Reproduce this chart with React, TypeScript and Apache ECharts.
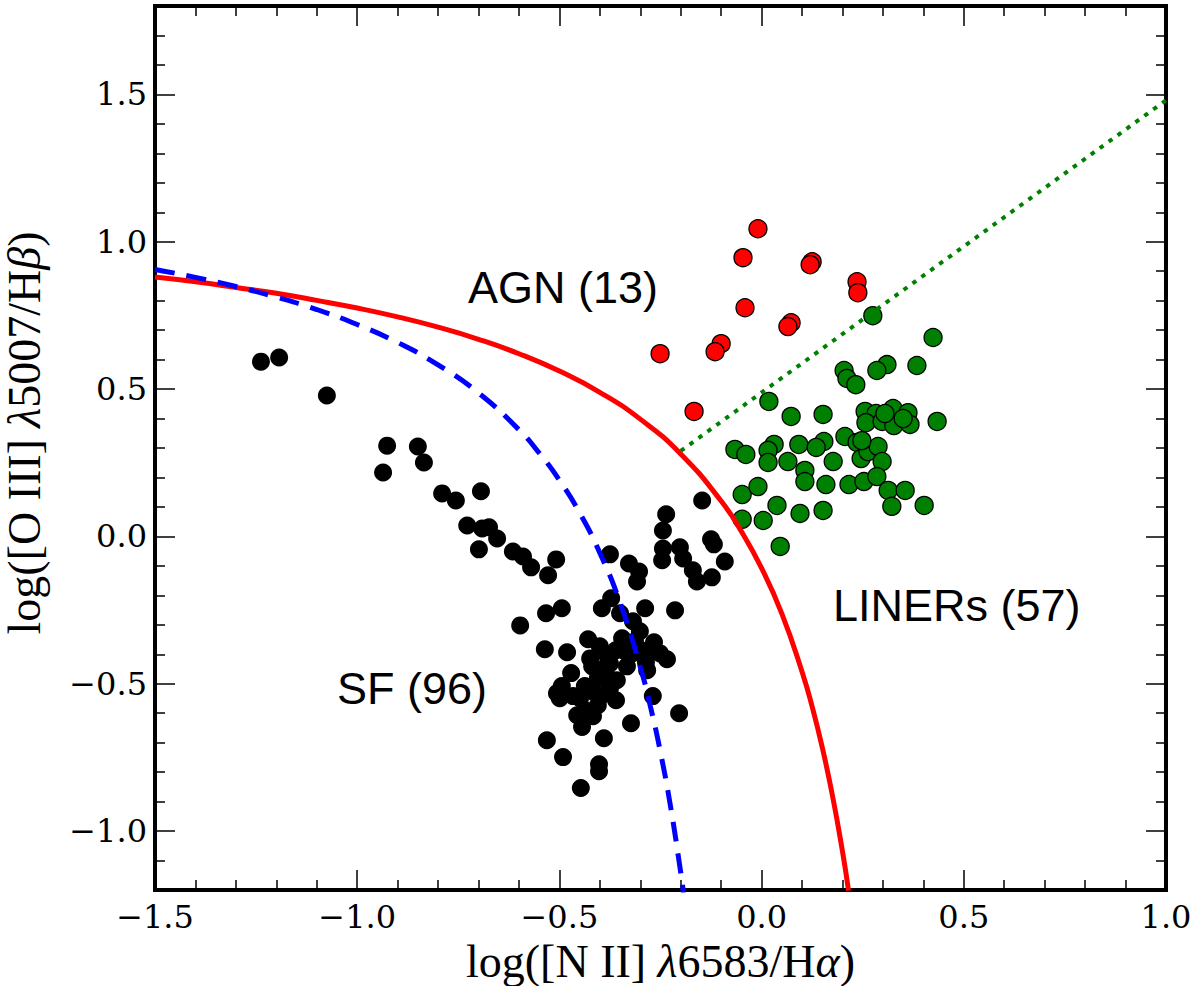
import { useEffect, useRef } from 'react';
import * as echarts from 'echarts';

// star-forming galaxies (black)
const sfPoints: [number, number][] = [
  [-1.238, 0.593], [-1.193, 0.607], [-1.075, 0.478], [-0.926, 0.308], [-0.936, 0.217],
  [-0.85, 0.305], [-0.835, 0.251], [-0.79, 0.146], [-0.756, 0.122], [-0.694, 0.153],
  [-0.728, 0.037], [-0.691, 0.027], [-0.674, 0.031], [-0.654, -0.007], [-0.699, -0.044],
  [-0.236, 0.075], [-0.244, 0.02], [-0.147, 0.122], [-0.125, -0.01], [-0.118, -0.027],
  [-0.091, -0.085], [-0.123, -0.139], [-0.244, -0.041], [-0.246, -0.081], [-0.202, -0.037],
  [-0.194, -0.075], [-0.17, -0.115], [-0.16, -0.153], [-0.615, -0.051], [-0.59, -0.068],
  [-0.57, -0.105], [-0.508, -0.078], [-0.528, -0.132], [-0.375, -0.061], [-0.328, -0.092],
  [-0.303, -0.119], [-0.308, -0.153], [-0.372, -0.21], [-0.395, -0.244], [-0.35, -0.261],
  [-0.318, -0.288], [-0.288, -0.244], [-0.214, -0.251], [-0.494, -0.244], [-0.533, -0.261],
  [-0.597, -0.302], [-0.429, -0.349], [-0.536, -0.383], [-0.481, -0.393], [-0.36, -0.386],
  [-0.382, -0.403], [-0.313, -0.356], [-0.266, -0.359], [-0.281, -0.386], [-0.338, -0.39],
  [-0.234, -0.417], [-0.286, -0.427], [-0.283, -0.454], [-0.419, -0.441], [-0.382, -0.437],
  [-0.471, -0.464], [-0.405, -0.481], [-0.358, -0.488], [-0.494, -0.508], [-0.506, -0.532],
  [-0.466, -0.542], [-0.419, -0.525], [-0.395, -0.539], [-0.36, -0.556], [-0.269, -0.542],
  [-0.437, -0.59], [-0.456, -0.607], [-0.417, -0.61], [-0.444, -0.647], [-0.323, -0.634],
  [-0.204, -0.6], [-0.531, -0.692], [-0.39, -0.685], [-0.491, -0.749], [-0.402, -0.773],
  [-0.402, -0.797], [-0.447, -0.854], [-0.375, -0.431], [-0.333, -0.441], [-0.4, -0.373],
  [-0.437, -0.508], [-0.375, -0.515], [-0.345, -0.346], [-0.405, -0.573], [-0.301, -0.322],
  [-0.449, -0.549], [-0.385, -0.468], [-0.32, -0.397], [-0.499, -0.549], [-0.251, -0.397],
  [-0.424, -0.414],
];

// AGN (red)
const agnPoints: [number, number][] = [
  [-0.009, 1.044], [-0.046, 0.946], [0.125, 0.932], [0.12, 0.922], [0.236, 0.864],
  [0.238, 0.827], [-0.041, 0.776], [0.073, 0.725], [0.065, 0.712], [-0.1, 0.654],
  [-0.115, 0.627], [-0.251, 0.62], [-0.167, 0.424],
];

// LINERs (green)
const linerPoints: [number, number][] = [
  [0.275, 0.749], [0.424, 0.675], [0.204, 0.563], [0.211, 0.536], [0.233, 0.515],
  [0.31, 0.583], [0.285, 0.563], [0.384, 0.58], [0.018, 0.458], [0.073, 0.407],
  [0.152, 0.414], [0.256, 0.424], [0.283, 0.417], [0.325, 0.434], [0.362, 0.42],
  [0.258, 0.386], [0.298, 0.39], [0.327, 0.376], [0.367, 0.38], [0.434, 0.39],
  [-0.066, 0.295], [-0.039, 0.278], [0.031, 0.312], [0.016, 0.292], [0.016, 0.251],
  [0.092, 0.312], [0.154, 0.322], [0.135, 0.302], [0.206, 0.339], [0.236, 0.319],
  [0.246, 0.264], [0.263, 0.288], [0.288, 0.305], [0.298, 0.254], [0.065, 0.254],
  [0.107, 0.224], [0.107, 0.186], [0.177, 0.254], [0.159, 0.176], [0.216, 0.176],
  [0.253, 0.186], [0.285, 0.203], [0.313, 0.156], [0.355, 0.156], [-0.048, 0.142],
  [-0.009, 0.169], [0.038, 0.105], [-0.048, 0.058], [0.004, 0.054], [0.095, 0.078],
  [0.152, 0.088], [0.322, 0.102], [0.402, 0.105], [0.046, -0.034], [0.305, 0.417],
  [0.248, 0.325], [0.35, 0.4],
];

// Kewley et al. (2001) maximum starburst line
const kewleyCurve: [number, number][] = [
  [-1.5, 0.88], [-1.4, 0.864], [-1.3, 0.845], [-1.2, 0.825], [-1.1, 0.801],
  [-1.0, 0.775], [-0.9, 0.745], [-0.8, 0.71], [-0.7, 0.669], [-0.6, 0.62],
  [-0.5, 0.561], [-0.4, 0.489], [-0.3, 0.398], [-0.2, 0.28], [-0.1, 0.12],
  [-0.05, 0.017], [0.0, -0.108], [0.05, -0.262], [0.1, -0.459], [0.125, -0.578],
  [0.15, -0.716], [0.175, -0.878], [0.2, -1.069], [0.215, -1.202],
];

// Kauffmann et al. (2003) line
const kauffmannCurve: [number, number][] = [
  [-1.5, 0.906], [-1.4, 0.879], [-1.3, 0.848], [-1.2, 0.812], [-1.1, 0.77],
  [-1.0, 0.719], [-0.9, 0.658], [-0.8, 0.582], [-0.7, 0.487], [-0.6, 0.362],
  [-0.55, 0.283], [-0.5, 0.191], [-0.45, 0.08], [-0.4, -0.056], [-0.35, -0.225],
  [-0.3, -0.443], [-0.275, -0.577], [-0.25, -0.733], [-0.225, -0.918], [-0.2, -1.14],
  [-0.195, -1.19], [-0.193, -1.21],
];

// Seyfert / LINER division
const dividingLine: [number, number][] = [[-0.2, 0.29], [1.0, 1.48]];

const yMajorTicks = [-1.0, -0.5, 0.0, 0.5, 1.0, 1.5];
const yMinorTicks = [
  -1.1, -0.9, -0.8, -0.7, -0.6, -0.4, -0.3, -0.2, -0.1, 0.1, 0.2, 0.3, 0.4,
  0.6, 0.7, 0.8, 0.9, 1.1, 1.2, 1.3, 1.4, 1.6, 1.7,
];

const fmt = (v: number) => (v < 0 ? '\u2212' + Math.abs(v).toFixed(1) : v.toFixed(1));

const tickFont = { fontFamily: 'DejaVu Serif', fontSize: 32, color: '#000' };
const tickLine = { color: '#000', width: 1.5 };

export default function App() {
  const chartDiv = useRef<HTMLDivElement>(null);

  useEffect(() => {
    document.body.style.margin = '0';
    if (!chartDiv.current) return;
    const chart = echarts.init(chartDiv.current, null, { renderer: 'svg' });

    const xCommon = {
      type: 'value' as const,
      min: -1.5,
      max: 1.0,
      interval: 0.5,
      axisLine: { show: false, onZero: false },
      splitLine: { show: false },
      axisTick: { inside: true, length: 20, lineStyle: tickLine },
      minorTick: { show: true, splitNumber: 5, length: 10, lineStyle: tickLine },
    };
    const yCommon = {
      type: 'value' as const,
      min: -1.2,
      max: 1.8,
      axisLine: { show: false, onZero: false },
      splitLine: { show: false },
    };
    const nameStyle = {
      fontFamily: 'Liberation Serif',
      fontSize: 46,
      color: '#000',
      rich: {
        i: { fontFamily: 'Liberation Serif', fontSize: 46, fontStyle: 'italic' as const, color: '#000' },
      },
    };

    const option: any = {
      animation: false,
      backgroundColor: '#fff',
      grid: {
        left: 155,
        right: 34,
        top: 6,
        bottom: 96,
        outerBoundsMode: 'none',
        containLabel: false,
        show: true,
        borderColor: '#000',
        borderWidth: 4,
        backgroundColor: 'transparent',
      },
      xAxis: [
        {
          ...xCommon,
          position: 'bottom',
          axisLabel: { ...tickFont, margin: 11, formatter: fmt },
          name: 'log([N II] {i|\u03bb}6583/H{i|\u03b1})',
          nameLocation: 'middle',
          nameGap: 48,
          nameTextStyle: nameStyle,
        },
        { ...xCommon, position: 'top', axisLabel: { show: false } },
      ],
      yAxis: [
        {
          ...yCommon,
          position: 'left',
          axisTick: { inside: true, length: 20, lineStyle: tickLine, customValues: yMajorTicks },
          axisLabel: { ...tickFont, margin: 8, customValues: yMajorTicks, formatter: fmt },
          name: 'log([O III] {i|\u03bb}5007/H{i|\u03b2})',
          nameLocation: 'middle',
          nameGap: 108,
          nameTextStyle: { ...nameStyle, padding: [0, 0, 0, 30] },
        },
        {
          ...yCommon,
          position: 'left',
          axisTick: { inside: true, length: 10, lineStyle: tickLine, customValues: yMinorTicks },
          axisLabel: { show: false },
        },
        {
          ...yCommon,
          position: 'right',
          axisTick: { inside: true, length: 20, lineStyle: tickLine, customValues: yMajorTicks },
          axisLabel: { show: false },
        },
        {
          ...yCommon,
          position: 'right',
          axisTick: { inside: true, length: 10, lineStyle: tickLine, customValues: yMinorTicks },
          axisLabel: { show: false },
        },
      ],
      series: [
        {
          name: 'SF',
          type: 'scatter',
          data: sfPoints,
          symbolSize: 18,
          itemStyle: { color: '#000', opacity: 1 },
          silent: true,
        },
        {
          name: 'Kewley',
          type: 'line',
          data: kewleyCurve,
          smooth: true,
          showSymbol: false,
          lineStyle: { color: '#ff0000', width: 5 },
          silent: true,
        },
        {
          name: 'Kauffmann',
          type: 'line',
          data: kauffmannCurve,
          smooth: true,
          showSymbol: false,
          lineStyle: { color: '#0000ff', width: 5, type: [20, 12] },
          silent: true,
        },
        {
          name: 'Division',
          type: 'line',
          data: dividingLine,
          showSymbol: false,
          lineStyle: { color: '#008000', width: 4, type: [4.5, 6.5] },
          silent: true,
        },
        {
          name: 'AGN',
          type: 'scatter',
          data: agnPoints,
          symbolSize: 18,
          itemStyle: { color: '#ff0000', borderColor: '#000', borderWidth: 1.3, opacity: 1 },
          silent: true,
        },
        {
          name: 'LINERs',
          type: 'scatter',
          data: linerPoints,
          symbolSize: 18,
          itemStyle: { color: '#008000', borderColor: '#000', borderWidth: 1.3, opacity: 1 },
          silent: true,
        },
      ],
      graphic: [
        {
          type: 'text',
          x: 468,
          y: 287,
          style: {
            text: 'AGN (13)',
            font: '45px "Liberation Sans"',
            fill: '#000',
            textVerticalAlign: 'middle',
            verticalAlign: 'middle',
          },
        },
        {
          type: 'text',
          x: 833,
          y: 605,
          style: {
            text: 'LINERs (57)',
            font: '45px "Liberation Sans"',
            fill: '#000',
            textVerticalAlign: 'middle',
            verticalAlign: 'middle',
          },
        },
        {
          type: 'text',
          x: 337,
          y: 688,
          style: {
            text: 'SF (96)',
            font: '45px "Liberation Sans"',
            fill: '#000',
            textVerticalAlign: 'middle',
            verticalAlign: 'middle',
          },
        },
      ],
    };

    chart.setOption(option);
    return () => {
      chart.dispose();
    };
  }, []);

  return <div ref={chartDiv} style={{ width: 1200, height: 986 }} />;
}
